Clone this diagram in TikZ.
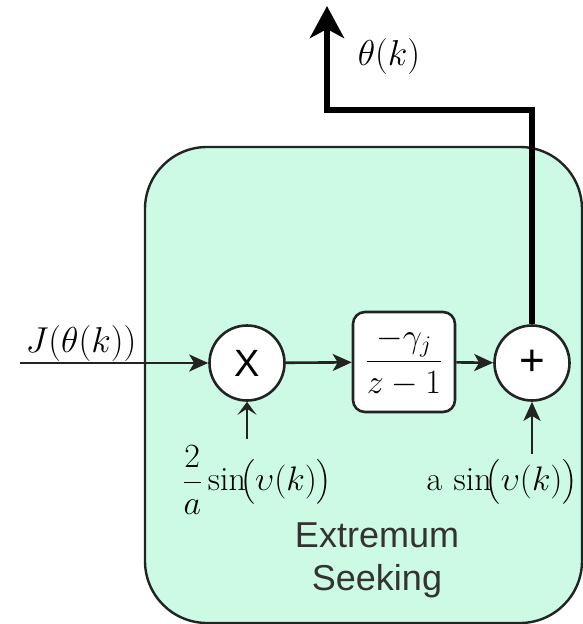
\RequirePackage{fix-cm}
\documentclass[tikz,border=0pt]{standalone}
\usepackage{amsmath}
\usepackage{fontspec}
\newfontfamily\arialfont{Liberation Sans}
\usetikzlibrary{arrows.meta}
\definecolor{mint}{RGB}{204,250,228}
\definecolor{edge}{RGB}{35,35,35}
\tikzset{
  op/.style={circle, draw=edge, line width=2.6pt, fill=white, minimum size=75pt, inner sep=0pt,
    font=\arialfont\fontsize{38}{40}\selectfont},
  tfbox/.style={rectangle, rounded corners=12pt, draw=edge, line width=2.6pt, fill=white,
    minimum width=102pt, minimum height=100pt, inner sep=0pt, font=\fontsize{34}{38}\selectfont},
  sig/.style={line width=2.6pt, draw=edge, -{Stealth[length=19pt,width=17pt,inset=5pt]}},
  thin sig/.style={line width=2.6pt, draw=edge, -{Stealth[length=13pt,width=19pt,inset=6pt]}},
  outsig/.style={line width=6pt, -{Stealth[length=32pt,width=34pt,inset=9pt]}},
  lbl/.style={inner sep=0pt, font=\fontsize{36}{40}\selectfont},
  slbl/.style={inner sep=0pt, font=\fontsize{34}{38}\selectfont},
  title/.style={inner sep=0pt, align=center, text=black!80, font=\arialfont\fontsize{36}{43}\selectfont}
}
\begin{document}
\begin{tikzpicture}[x=1pt,y=-1pt]
\useasboundingbox (0,0) rectangle (583,624);
\fill[white] (0,0) rectangle (583,624);
% extremum seeking block
\path[draw=edge, line width=2.4pt, fill=mint, rounded corners=62pt] (145,147) rectangle (582,623);
\node[title] (es) at (377,560) {Extremum\\Seeking};
% nodes
\node[op] (mul) at (247,363) {X};
\node[tfbox] (tf) at (404,362) {$\dfrac{-\gamma_j}{z-1}$};
\node[op, font=\arialfont\fontsize{44}{44}\selectfont] (sum) at (532,363) {+};
% coordinates
\coordinate (in) at (20,363);
\coordinate (m2) at (247,439);
\coordinate (s2) at (532,454);
\coordinate (c1) at (532,110);
\coordinate (c2) at (327,110);
\coordinate (tip) at (327,6);
% connectors
\draw[sig] (in) -- (mul);
\draw[sig] (mul) -- (tf);
\draw[sig] (tf) -- (sum);
\draw[thin sig] (m2) -- (mul);
\draw[sig] (s2) -- (sum);
\draw[outsig] (sum.north) -- (c1) -- (c2) -- (tip);
% labels
\node[lbl] (jl) at (81,343) {$J(\theta(k))$};
\node[lbl] (th) at (389,56) {$\theta(k)$};
\node[slbl] (ml) at (257,480) {$\dfrac{2}{a}\sin\!\bigl(\upsilon(k)\bigr)$};
\node[slbl] (sl) at (502,482) {$\mathrm{a}\,\sin\!\bigl(\upsilon(k)\bigr)$};
\end{tikzpicture}
\end{document}
